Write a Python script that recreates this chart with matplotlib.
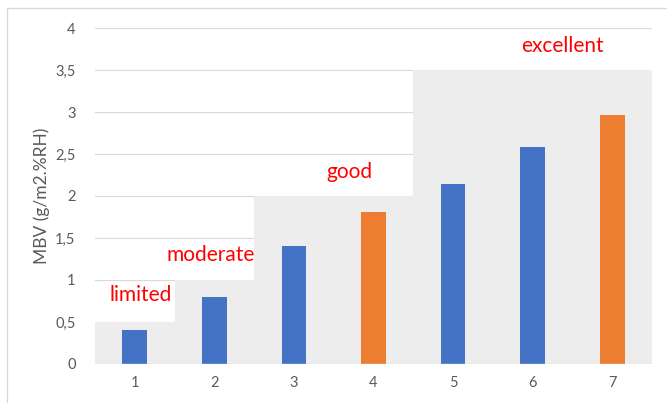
import matplotlib
matplotlib.use("Agg")
import matplotlib.pyplot as plt
from matplotlib.patches import Rectangle

plt.rcParams['font.family'] = ['Lato', 'DejaVu Sans']

categories = [1, 2, 3, 4, 5, 6, 7]
values = [0.40, 0.80, 1.41, 1.81, 2.14, 2.58, 2.96]
bar_colors = ['#4472C4', '#4472C4', '#4472C4', '#ED7D31', '#4472C4', '#4472C4', '#ED7D31']

class_names = ['limited', 'moderate', 'good', 'excellent']
class_starts = [0.5, 1.5, 2.5, 4.5]
class_ends = [1.5, 2.5, 4.5, 7.5]
class_tops = [0.5, 1.0, 2.0, 3.5]
label_x = [1.07, 1.95, 3.7, 6.38]
label_y = [0.82, 1.30, 2.28, 3.79]

yticks = [0, 0.5, 1, 1.5, 2, 2.5, 3, 3.5, 4]
ytick_labels = ['0', '0,5', '1', '1,5', '2', '2,5', '3', '3,5', '4']

fig = plt.figure(figsize=(6.67, 4.03), dpi=100)
ax = fig.add_axes([0.1424, 0.0968, 0.8351, 0.8337])

# outer chart frame
fig.patches.append(Rectangle((0.011, -0.01), 1.0, 0.99, transform=fig.transFigure,
                             fill=False, edgecolor='#D9D9D9', linewidth=1.0))

for y in yticks[1:]:
    ax.axhline(y, color='#D9D9D9', linewidth=0.8, zorder=1)
ax.axhline(0, color='#D9D9D9', linewidth=1.0, zorder=4)

for s, e, t in zip(class_starts, class_ends, class_tops):
    ax.bar(s, t, width=e - s, align='edge', color='#EDEDED', zorder=2, linewidth=0)

ax.bar(categories, values, width=0.31, color=bar_colors, zorder=3)

for name, x, y in zip(class_names, label_x, label_y):
    ax.text(x, y, name, color='#FF0000', fontsize=15, ha='center', va='center', zorder=5)

ax.set_xlim(0.5, 7.5)
ax.set_ylim(0, 4)
ax.set_yticks(yticks)
ax.set_yticklabels(ytick_labels)
ax.set_xticks(categories)
ax.tick_params(axis='both', length=0, colors='#595959', labelsize=10.5)
ax.tick_params(axis='x', pad=9)
ax.tick_params(axis='y', pad=14)
for sp in ax.spines.values():
    sp.set_visible(False)
ax.set_ylabel('MBV (g/m2.%RH)', color='#595959', fontsize=12.5, labelpad=4)

fig.savefig('out.png', dpi=100)
